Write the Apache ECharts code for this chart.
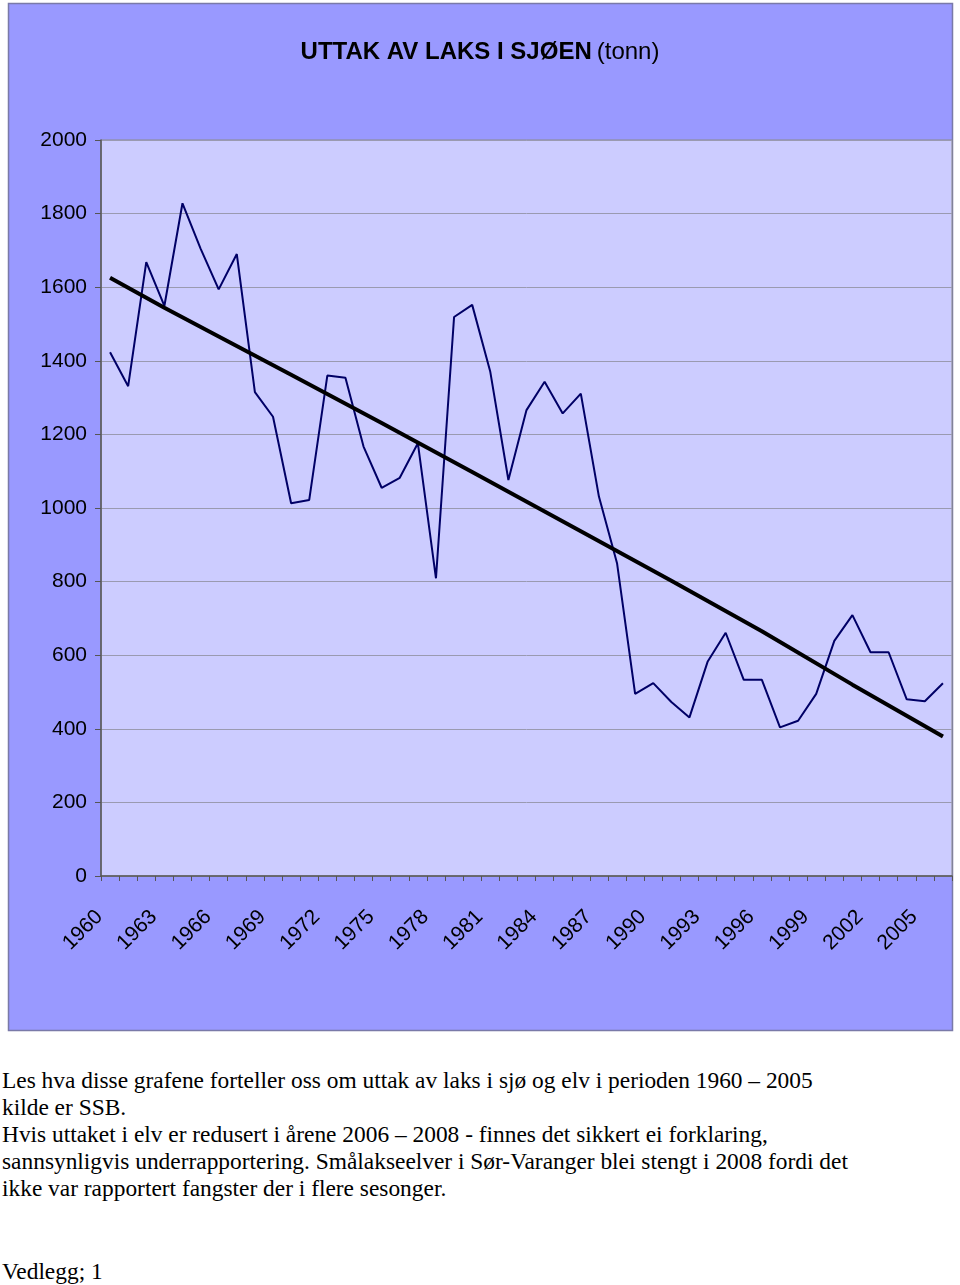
<!DOCTYPE html>
<html>
<head>
<meta charset="utf-8">
<script src="https://cdn.jsdelivr.net/npm/echarts@6/dist/echarts.min.js"></script>
<style>
  html, body { margin: 0; padding: 0; background: #ffffff; }
  #chart { position: absolute; left: 0; top: 0; width: 960px; height: 1040px; }
  #notes { position: absolute; left: 2px; top: 1067px; width: 955px;
           font-family: "Liberation Serif", "Times New Roman", serif; font-size: 23.4px;
           line-height: 27px; color: #000; white-space: nowrap; }
  #footer { position: absolute; left: 2px; top: 1258px;
           font-family: "Liberation Serif", "Times New Roman", serif; font-size: 23.4px; color: #000; }
</style>
</head>
<body>
<div id="chart"></div>
<div id="notes">Les hva disse grafene forteller oss om uttak av laks i sjø og elv i perioden 1960 – 2005<br>kilde er SSB.<br>Hvis uttaket i elv er redusert i årene 2006 – 2008 - finnes det sikkert ei forklaring,<br>sannsynligvis underrapportering. Smålakseelver i Sør-Varanger blei stengt i 2008 fordi det<br>ikke var rapportert fangster der i flere sesonger.</div>
<div id="footer">Vedlegg; 1</div>
<script>
const years = [];
for (let y = 1960; y <= 2006; y++) years.push(String(y));

const catch_tonnes = [
  1423, 1331, 1668, 1549, 1828, 1705, 1594, 1690, 1315, 1248,
  1013, 1022, 1360, 1354, 1167, 1055, 1082, 1176, 809, 1519,
  1552, 1370, 1076, 1266, 1343, 1257, 1311, 1031, 850, 495,
  524, 473, 431, 582, 661, 533, 533, 404, 422, 495,
  639, 709, 608, 608, 480, 475, 524
];

const trend = [
  1626, null, null, 1544, null, null, 1466, null, null, null,
  1362, null, null, null, null, 1231, null, null, null, null,
  1098, null, null, null, null, null, 937, null, null, null,
  null, 802, null, null, null, null, 665, null, null, null,
  null, 520, null, null, null, null, 379
];

const yTicks = [0, 200, 400, 600, 800, 1000, 1200, 1400, 1600, 1800, 2000];

const sans = '"Liberation Sans", Arial, sans-serif';

const chart = echarts.init(document.getElementById('chart'), null, { renderer: 'canvas' });
chart.setOption({
  backgroundColor: '#ffffff',
  animation: false,
  graphic: [{
    type: 'rect', z: -10, silent: true,
    shape: { x: 8.5, y: 3.5, width: 944, height: 1027 },
    style: { fill: '#9999ff', stroke: '#7a7aa8', lineWidth: 1.5 }
  }],
  title: {
    text: '{b|UTTAK AV LAKS I SJØEN} {n|(tonn)}',
    left: 'center', top: 35,
    textStyle: {
      rich: {
        b: { fontFamily: sans, fontSize: 24, fontWeight: 'bold', color: '#000' },
        n: { fontFamily: sans, fontSize: 24, fontWeight: 'normal', color: '#000' }
      }
    }
  },
  grid: {
    left: 101, top: 140, width: 851, height: 736,
    show: true, backgroundColor: '#ccccff', borderColor: '#8a8a8a', borderWidth: 1
  },
  xAxis: {
    type: 'category',
    data: years,
    boundaryGap: true,
    axisLine: { lineStyle: { color: '#555555', width: 1.5 } },
    axisTick: { show: true, interval: 0, length: 5, lineStyle: { color: '#555555' } },
    axisLabel: {
      interval: 2, rotate: 45, margin: 27, padding: [0, 15, 0, 0],
      fontFamily: sans, fontSize: 21, color: '#000'
    },
    splitLine: { show: false }
  },
  yAxis: {
    type: 'value', min: 0, max: 2000, interval: 200,
    axisLine: { show: true, lineStyle: { color: '#555555', width: 1.5 } },
    axisTick: { show: true, length: 6, lineStyle: { color: '#555555' } },
    axisLabel: {
      margin: 14, fontFamily: sans, fontSize: 21, color: '#000',
      formatter: v => yTicks.includes(v) ? String(v) : ''
    },
    splitLine: { show: true, lineStyle: { color: '#9a9ab0', width: 1 } }
  },
  series: [
    {
      name: 'Uttak', type: 'line', data: catch_tonnes,
      symbol: 'none', lineStyle: { color: '#000066', width: 2 }, z: 3
    },
    {
      name: 'Trend', type: 'line', data: trend, connectNulls: true,
      symbol: 'none', lineStyle: { color: '#000000', width: 4 }, z: 4
    }
  ]
});
</script>
</body>
</html>
